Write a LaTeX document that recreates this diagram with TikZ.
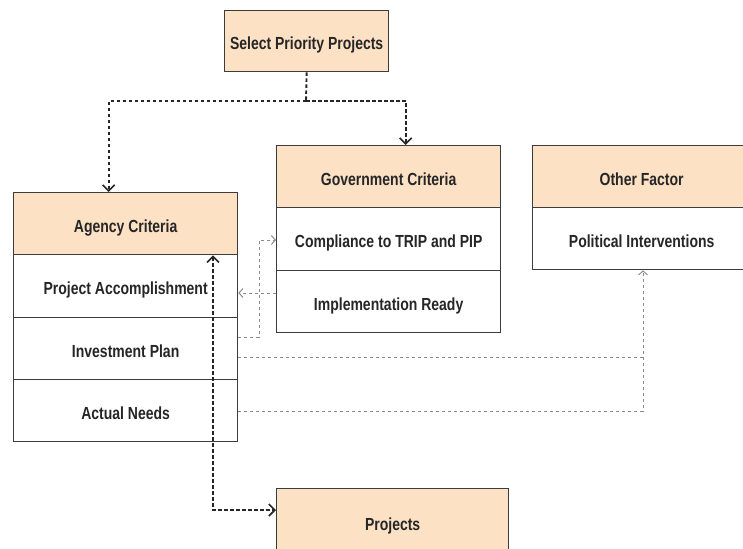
\documentclass[tikz,border=0pt]{standalone}
\usepackage{fontspec}
\setmainfont{Liberation Sans}[FakeStretch=0.8]
\usetikzlibrary{arrows.meta}
\definecolor{peach}{RGB}{252,225,197}
\definecolor{boxline}{RGB}{60,60,60}
\definecolor{dashgray}{RGB}{140,140,140}
\begin{document}
\begin{tikzpicture}[x=1pt,y=-1pt,
 cell/.style={draw=boxline,line width=1.3pt,anchor=north west,inner sep=0pt,
   text height=17pt,text depth=0pt,
   font=\fontsize{17.5}{19}\selectfont\bfseries,text=black!85},
 head/.style={cell,fill=peach},
 body/.style={cell,fill=white},
 blk/.style={draw=black!85,line width=1.9pt,dash pattern=on 3.5pt off 2.5pt},
 blkarrow/.style={blk,-{Straight Barb[length=6pt,width=12pt,line width=1.6pt]}},
 blkboth/.style={blk,{Straight Barb[length=6pt,width=12pt,line width=1.6pt]}-{Straight Barb[length=6pt,width=12pt,line width=1.6pt]}},
 gryline/.style={draw=dashgray,line width=1pt,dash pattern=on 3pt off 3pt},
 gry/.style={gryline,-{Straight Barb[length=4pt,width=9pt,line width=1pt]}}]
\useasboundingbox (0,0) rectangle (743,548);
\clip (0,0) rectangle (743,548);

% Select
\node[head,minimum width=164pt,minimum height=61pt] (sel) at (224,10) {Select Priority Projects};

% Agency
\node[head,minimum width=224pt,minimum height=62pt] (ag) at (13,192) {Agency Criteria};
\node[body,minimum width=224pt,minimum height=63pt] (pa) at (13,254) {Project Accomplishment};
\node[body,minimum width=224pt,minimum height=62pt] (ip) at (13,317) {Investment Plan};
\node[body,minimum width=224pt,minimum height=62pt] (an) at (13,379) {Actual Needs};

% Government
\node[head,minimum width=224pt,minimum height=62pt] (gov) at (276,145) {Government Criteria};
\node[body,minimum width=224pt,minimum height=63pt] (comp) at (276,207) {Compliance to TRIP and PIP};
\node[body,minimum width=224pt,minimum height=62pt] (impl) at (276,270) {Implementation Ready};

% Other
\node[head,minimum width=218pt,minimum height=62pt] (oth) at (532,145) {Other Factor};
\node[body,minimum width=218pt,minimum height=62pt] (pi) at (532,207) {Political Interventions};

% Projects
\node[head,minimum width=232pt,minimum height=66pt] (proj) at (276,488) {Projects};

% coordinates
\coordinate (j) at (306,101);
\coordinate (y1) at (0,293);
\coordinate (y2) at (0,337);
\coordinate (y3) at (0,240);
\coordinate (x1) at (259,0);
\coordinate (y4) at (0,357);
\coordinate (y5) at (0,411);
\coordinate (x2) at (643,0);
\coordinate (c) at (213,510);

% black connectors
\draw[blk] (sel.south) -- (j);
\draw[blkarrow] (j) -| ([xshift=-17pt]ag.north);
\draw[blkarrow] (j) -| ([xshift=17pt]gov.north);
\draw[blkboth] (ag.south -| c) |- (proj.west |- c);

% gray connectors
\draw[gry] (impl.west |- y1) -- (pa.east |- y1);
\draw[gry] (ip.east |- y2) -- (x1 |- y2) -- (x1 |- y3) -- (comp.west |- y3);
\draw[gry] (ip.east |- y4) -| (pi.south -| x2);
\draw[gryline] (an.east |- y5) -| (x2 |- y4);
\end{tikzpicture}
\end{document}
